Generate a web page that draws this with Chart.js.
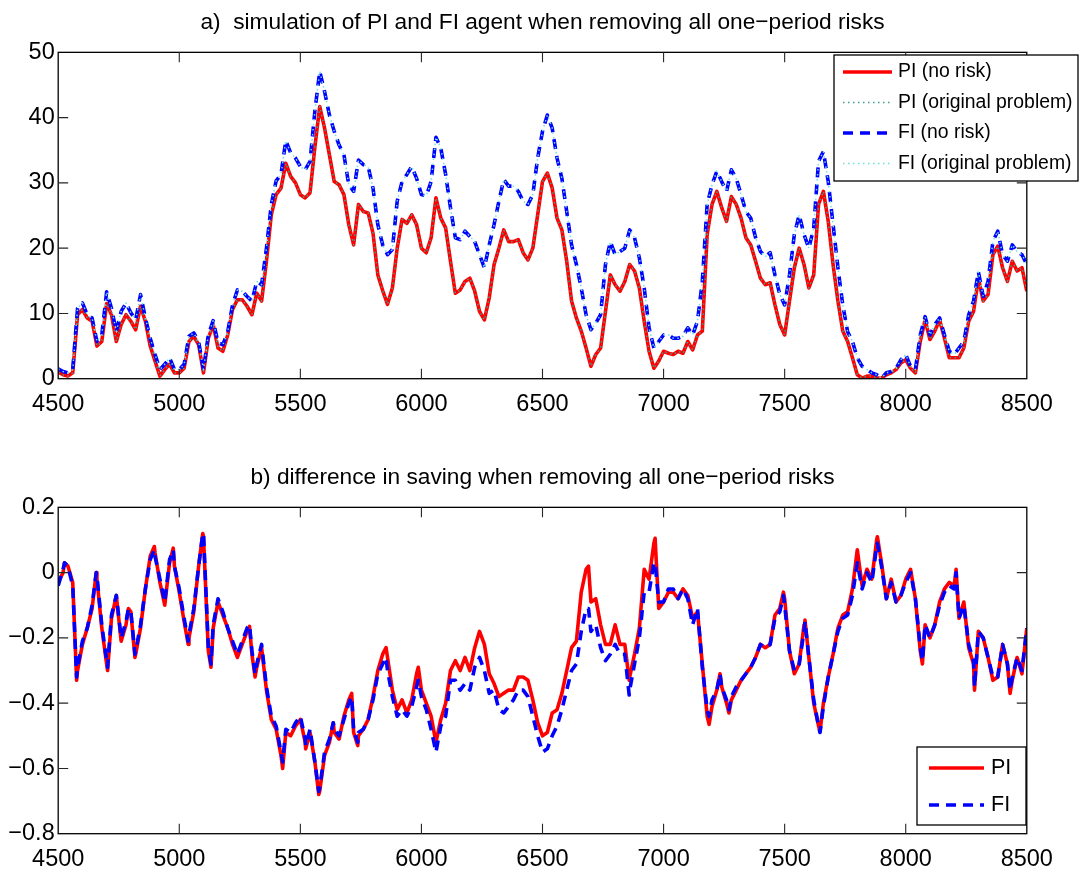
<!DOCTYPE html>
<html>
<head>
<meta charset="utf-8">
<script src="https://cdn.jsdelivr.net/npm/chart.js@4.4.0/dist/chart.umd.min.js"></script>
<style>
html, body { margin: 0; padding: 0; background: #fff; }
#wrap { position: relative; width: 1081px; height: 873px; overflow: hidden; background: #fff; }
#wrap canvas { position: absolute; left: 0; }
#c1 { top: 0; }
#c2 { top: 455px; }
</style>
</head>
<body>
<div id="wrap">
  <canvas id="c1" width="1081" height="455"></canvas>
  <canvas id="c2" width="1081" height="418"></canvas>
</div>
<script>
const periodStart = 4500;
const periodStep = 20;
const periodCount = 201; // 4500 ... 8500

const xTicks = [4500, 5000, 5500, 6000, 6500, 7000, 7500, 8000, 8500];
const yTicksTop = [0, 10, 20, 30, 40, 50];
const yTicksBottom = [-0.8, -0.6, -0.4, -0.2, 0, 0.2];

// panel a) PI agent, no one-period risk
const piNoRisk = [
1.0,0.6,0.4,0.9,9.8,10.6,9.3,8.8,5.0,5.7,
11.5,9.8,5.7,8.3,9.8,8.8,7.5,11.1,8.8,5.0,
2.7,0.4,1.4,2.2,0.9,0.9,1.6,5.7,6.5,5.2,
0.9,6.2,8.3,4.7,4.2,6.7,10.6,12.1,12.1,11.1,
9.8,13.1,11.9,18.0,25.1,28.2,29.2,33.0,31.0,30.0,
28.2,27.7,28.5,35.5,41.7,38.4,34.3,30.2,29.7,28.2,
23.6,20.5,26.7,25.6,25.4,22.3,15.9,13.5,11.4,13.9,
20.0,24.4,23.8,25.1,23.6,20.0,19.3,21.6,27.7,24.6,
23.1,18.0,13.1,13.6,14.9,15.4,13.4,10.3,9.0,12.4,
17.5,20.0,22.8,21.0,21.0,21.3,19.3,18.2,20.0,25.1,
30.2,31.5,29.2,24.6,22.8,18.0,11.9,9.3,7.3,4.7,
1.9,3.7,4.7,10.3,15.9,14.4,13.4,14.9,17.5,16.5,
13.9,8.8,4.2,1.6,2.7,4.2,3.9,3.7,4.2,3.9,
5.7,4.4,6.7,7.3,22.1,26.7,28.7,26.2,24.1,27.9,
26.7,24.6,21.6,20.5,18.0,15.4,14.4,14.7,11.3,8.3,
6.7,11.9,17.0,20.0,17.5,13.9,15.9,26.7,28.7,24.1,
17.5,11.9,7.3,5.7,3.2,0.6,0.1,0.4,0.4,0.1,
0.1,0.6,0.9,1.4,2.4,2.9,1.6,0.9,5.7,9.0,
6.0,7.3,9.0,6.2,3.2,3.2,3.2,4.7,8.8,10.3,
15.4,11.9,12.9,19.0,20.3,17.0,14.9,18.0,16.5,17.0,
13.4
];

// panel a) FI agent, no one-period risk
const fiNoRisk = [
1.5,1.1,0.9,1.4,10.8,11.6,9.8,9.3,5.7,6.7,
13.3,10.8,7.2,10.3,11.6,10.1,9.0,12.9,9.3,6.2,
3.7,1.4,2.2,3.2,1.4,1.4,2.2,6.5,7.0,5.7,
1.4,6.7,8.9,5.5,5.2,7.2,11.3,13.6,13.4,12.6,
11.9,14.9,14.4,20.0,26.7,30.3,31.3,36.5,34.6,33.8,
32.5,32.0,33.3,41.0,47.1,44.0,40.4,37.9,35.8,34.3,
29.7,28.7,33.5,32.8,32.5,29.2,23.6,20.5,19.0,19.8,
27.2,30.2,31.3,32.5,30.7,28.2,28.0,30.2,37.0,35.3,
31.3,26.2,21.6,21.3,22.6,21.8,21.0,19.0,17.0,20.5,
23.6,27.2,30.5,29.5,29.5,28.7,27.2,26.7,28.2,33.8,
37.9,40.4,38.4,33.8,30.7,25.6,20.5,17.5,13.9,9.8,
7.5,8.5,9.8,17.5,21.0,19.0,19.5,20.0,22.8,21.6,
18.5,13.9,7.8,4.7,5.7,6.7,6.7,6.2,6.2,6.5,
7.8,6.7,8.8,14.9,26.7,29.7,31.8,30.2,28.7,32.0,
30.7,28.2,25.6,24.6,21.6,19.5,18.7,19.3,15.9,12.9,
11.3,15.9,22.1,25.1,22.1,20.0,23.1,33.3,34.8,30.2,
23.6,17.0,11.3,7.2,5.7,3.2,1.9,1.4,0.9,0.6,
0.1,0.9,1.1,1.6,2.9,3.7,1.9,1.4,6.7,9.5,
6.7,8.3,9.3,6.7,4.2,3.7,4.7,5.7,9.8,11.9,
16.4,12.6,14.9,21.0,22.6,19.0,18.0,20.5,19.5,19.0,
17.5
];

// "original problem" paths lie on top of the no-risk paths in the picture
const piOriginal = piNoRisk;
const fiOriginal = fiNoRisk;

// panel b) difference in saving, PI agent (grid every 20 periods)
const piDiff = [
-0.03,0.00,0.02,-0.03,-0.30,-0.22,-0.17,-0.11,-0.02,-0.17,
-0.28,-0.14,-0.07,-0.21,-0.16,-0.12,-0.25,-0.17,-0.05,0.05,
0.06,-0.03,-0.10,0.03,0.02,-0.06,-0.15,-0.20,-0.12,0.02,
0.11,-0.24,-0.17,-0.09,-0.13,-0.17,-0.22,-0.26,-0.22,-0.18,
-0.25,-0.29,-0.23,-0.36,-0.45,-0.48,-0.56,-0.49,-0.50,-0.47,
-0.45,-0.52,-0.49,-0.58,-0.67,-0.56,-0.52,-0.49,-0.51,-0.44,
-0.39,-0.49,-0.50,-0.48,-0.45,-0.38,-0.30,-0.25,-0.26,-0.36,
-0.42,-0.39,-0.43,-0.39,-0.31,-0.36,-0.40,-0.44,-0.52,-0.45,
-0.40,-0.30,-0.27,-0.30,-0.26,-0.30,-0.23,-0.18,-0.22,-0.31,
-0.34,-0.38,-0.37,-0.36,-0.36,-0.32,-0.32,-0.33,-0.39,-0.46,
-0.50,-0.49,-0.43,-0.42,-0.37,-0.30,-0.23,-0.21,-0.06,0.01,
-0.09,-0.08,-0.16,-0.22,-0.22,-0.16,-0.22,-0.22,-0.32,-0.25,
-0.17,0.01,-0.02,0.09,-0.11,-0.09,-0.06,-0.06,-0.08,-0.05,
-0.07,-0.14,-0.12,-0.28,-0.44,-0.41,-0.36,-0.35,-0.40,-0.39,
-0.36,-0.33,-0.31,-0.29,-0.26,-0.22,-0.23,-0.22,-0.13,-0.11,
-0.08,-0.24,-0.31,-0.28,-0.16,-0.26,-0.40,-0.47,-0.40,-0.32,
-0.25,-0.17,-0.13,-0.12,-0.05,0.07,-0.04,0.01,-0.02,0.10,
0.03,-0.08,-0.02,-0.09,-0.07,-0.02,0.01,-0.08,-0.24,-0.16,
-0.20,-0.16,-0.09,-0.05,-0.03,-0.04,-0.14,-0.09,-0.23,-0.28,
-0.18,-0.20,-0.26,-0.33,-0.32,-0.22,-0.28,-0.33,-0.26,-0.31,
-0.17
];

// panel b) difference in saving, FI agent (grid every 20 periods)
const fiDiff = [
-0.04,0.01,0.02,-0.04,-0.29,-0.21,-0.17,-0.10,-0.01,-0.16,
-0.27,-0.13,-0.07,-0.20,-0.15,-0.12,-0.24,-0.16,-0.05,0.04,
0.05,-0.02,-0.09,0.04,0.02,-0.05,-0.14,-0.19,-0.11,0.02,
0.12,-0.23,-0.16,-0.08,-0.12,-0.17,-0.21,-0.25,-0.21,-0.17,
-0.24,-0.28,-0.22,-0.35,-0.44,-0.47,-0.55,-0.48,-0.49,-0.46,
-0.44,-0.51,-0.48,-0.58,-0.66,-0.55,-0.51,-0.48,-0.50,-0.45,
-0.40,-0.48,-0.49,-0.48,-0.45,-0.39,-0.31,-0.28,-0.30,-0.38,
-0.44,-0.42,-0.44,-0.41,-0.35,-0.38,-0.42,-0.48,-0.55,-0.47,
-0.44,-0.33,-0.33,-0.36,-0.34,-0.36,-0.29,-0.26,-0.30,-0.37,
-0.36,-0.42,-0.43,-0.41,-0.39,-0.36,-0.36,-0.38,-0.44,-0.50,
-0.55,-0.54,-0.50,-0.47,-0.42,-0.36,-0.30,-0.28,-0.18,-0.11,
-0.18,-0.16,-0.23,-0.27,-0.25,-0.22,-0.25,-0.25,-0.36,-0.28,
-0.20,-0.06,-0.06,0.03,-0.09,-0.09,-0.05,-0.05,-0.08,-0.05,
-0.08,-0.16,-0.11,-0.29,-0.42,-0.39,-0.36,-0.35,-0.39,-0.38,
-0.35,-0.33,-0.31,-0.29,-0.26,-0.22,-0.23,-0.22,-0.14,-0.12,
-0.10,-0.24,-0.30,-0.28,-0.18,-0.26,-0.39,-0.47,-0.41,-0.32,
-0.25,-0.18,-0.14,-0.13,-0.07,0.03,-0.05,0.00,-0.03,0.08,
0.02,-0.08,-0.03,-0.09,-0.07,-0.03,0.00,-0.08,-0.23,-0.16,
-0.20,-0.16,-0.10,-0.06,-0.04,-0.05,-0.14,-0.10,-0.22,-0.27,
-0.18,-0.20,-0.26,-0.32,-0.32,-0.22,-0.28,-0.32,-0.26,-0.30,
-0.17
];

// panel b) short spikes read between the grid points
const spikeX  = [4526, 4576, 4657, 4704, 4790, 4817, 4897, 4975, 5037, 5097, 5131, 5290, 5313, 5427, 5522, 5576, 5636, 5712, 5737,
                 5854, 5987, 6690, 6858, 6965, 7188, 7233, 7270, 7495, 7584, 7646, 7883, 8069, 8208, 8284, 8431];
const piSpike = [0.03, -0.33, 0.00, -0.30, -0.11, -0.26, 0.08, 0.075, -0.22, 0.12, -0.29, -0.165, -0.32, -0.60, -0.54, -0.68, -0.46, -0.37, -0.53,
                 -0.23, -0.29, 0.02, -0.33, 0.105, -0.465, -0.31, -0.43, -0.06, -0.145, -0.487, 0.11, -0.28, 0.01, -0.36, -0.37];
const fiSpike = [0.03, -0.32, 0.00, -0.29, -0.11, -0.25, 0.07, 0.07, -0.21, 0.12, -0.28, -0.16, -0.31, -0.58, -0.53, -0.67, -0.46, -0.38, -0.52,
                 -0.26, -0.33, -0.11, -0.375, 0.03, -0.44, -0.31, -0.42, -0.07, -0.15, -0.49, 0.09, -0.27, 0.00, -0.35, -0.36];

// ---------- CHART BUILDING ----------
const FONT = "'Liberation Sans', Arial, Helvetica, sans-serif";
Chart.defaults.font.family = FONT;
Chart.defaults.color = '#000';

const periods = Array.from({length: periodCount}, (_, i) => periodStart + i * periodStep);
const toPoints = ys => ys.map((y, i) => ({x: periods[i], y}));
const withSpikes = (ys, sp) => toPoints(ys).concat(spikeX.map((x, i) => ({x, y: sp[i]}))).sort((a, b) => a.x - b.x);

const RED = '#ff0000', BLUE = '#0000ff', TEAL = '#3e9e90', CYAN = '#6ee0e0';

// box + inward tick marks (MATLAB style)
const framePlugin = {
  id: 'frame',
  afterDatasetsDraw(chart) {
    const {ctx, chartArea: a, scales} = chart;
    ctx.save();
    ctx.strokeStyle = '#000';
    ctx.lineWidth = 1.3;
    ctx.strokeRect(a.left, a.top, a.right - a.left, a.bottom - a.top);
    const L = 10;
    ctx.strokeStyle = '#262626';
    ctx.lineWidth = 1.1;
    ctx.beginPath();
    scales.x.ticks.forEach(t => {
      const p = scales.x.getPixelForValue(t.value);
      if (p <= a.left + 1 || p >= a.right - 1) return;
      ctx.moveTo(p, a.bottom); ctx.lineTo(p, a.bottom - L);
      ctx.moveTo(p, a.top); ctx.lineTo(p, a.top + L);
    });
    scales.y.ticks.forEach(t => {
      const p = scales.y.getPixelForValue(t.value);
      if (p <= a.top + 1 || p >= a.bottom - 1) return;
      ctx.moveTo(a.left, p); ctx.lineTo(a.left + L, p);
      ctx.moveTo(a.right, p); ctx.lineTo(a.right - L, p);
    });
    ctx.stroke();
    ctx.restore();
  }
};

function makeLegend(cfg) {
  return {
    id: 'boxLegend',
    afterDraw(chart) {
      const ctx = chart.ctx;
      ctx.save();
      ctx.fillStyle = '#fff';
      ctx.fillRect(cfg.x, cfg.y, cfg.w, cfg.h);
      ctx.strokeStyle = '#000';
      ctx.lineWidth = 1.3;
      ctx.strokeRect(cfg.x, cfg.y, cfg.w, cfg.h);
      ctx.font = cfg.fontSize + 'px ' + FONT;
      ctx.textBaseline = 'middle';
      ctx.textAlign = 'left';
      cfg.items.forEach((dsIndex, k) => {
        const ds = chart.data.datasets[dsIndex];
        const y = cfg.firstY + k * cfg.gap;
        ctx.save();
        ctx.strokeStyle = ds.borderColor;
        ctx.lineWidth = ds.borderWidth;
        ctx.setLineDash(ds.borderDash || []);
        ctx.beginPath();
        ctx.moveTo(cfg.lineX1, y);
        ctx.lineTo(cfg.lineX2, y);
        ctx.stroke();
        ctx.restore();
        ctx.fillStyle = '#000';
        ctx.fillText(ds.label, cfg.textX, y);
      });
      ctx.restore();
    }
  };
}

function options(o) {
  return {
    responsive: false,
    animation: false,
    devicePixelRatio: 1,
    events: [],
    layout: { padding: { left: 8.2, right: 54.2, top: 0, bottom: o.padBottom } },
    plugins: {
      legend: { display: false },
      tooltip: { enabled: false },
      title: {
        display: true, text: o.title, color: '#000', fullSize: false,
        font: { size: 22.7, weight: 'normal', family: FONT },
        padding: { top: 9.2, bottom: 15.9 }
      }
    },
    scales: {
      x: {
        type: 'linear', min: 4500, max: 8500,
        grid: { display: false, drawTicks: false }, border: { display: false },
        afterBuildTicks: s => { s.ticks = xTicks.map(v => ({value: v})); },
        ticks: { padding: 11.5, font: { size: 23.5 }, color: '#000', maxRotation: 0, autoSkip: false,
                 callback: v => String(v) },
        afterFit: s => { s.height = o.xAxisHeight; }
      },
      y: {
        type: 'linear', min: o.yTicks[0], max: o.yTicks[o.yTicks.length - 1],
        grid: { display: false, drawTicks: false }, border: { display: false },
        afterBuildTicks: s => { s.ticks = o.yTicks.map(v => ({value: v})); },
        ticks: { padding: 3.5, font: { size: 23.5 }, color: '#000', autoSkip: false, callback: o.yFormat },
        afterFit: s => { s.width = 50; }
      }
    }
  };
}

const lineBase = { pointRadius: 0, tension: 0, fill: false, borderJoinStyle: 'round', spanGaps: true };

new Chart(document.getElementById('c1'), {
  type: 'line',
  data: {
    datasets: [
      Object.assign({ label: 'PI (no risk)', data: toPoints(piNoRisk), borderColor: RED, borderWidth: 3.6, order: 3 }, lineBase),
      Object.assign({ label: 'PI (original problem)', data: toPoints(piOriginal), borderColor: TEAL, borderWidth: 1.5, borderDash: [1.5, 3.5], order: 2 }, lineBase),
      Object.assign({ label: 'FI (no risk)', data: toPoints(fiNoRisk), borderColor: BLUE, borderWidth: 3.6, borderDash: [10, 7], order: 1 }, lineBase),
      Object.assign({ label: 'FI (original problem)', data: toPoints(fiOriginal), borderColor: CYAN, borderWidth: 1.5, borderDash: [1.5, 3.5], order: 0 }, lineBase)
    ]
  },
  options: options({
    title: 'a)  simulation of PI and FI agent when removing all one\u2212period risks',
    padBottom: 26.3,
    xAxisHeight: 50,
    yTicks: yTicksTop,
    yFormat: v => String(v)
  }),
  plugins: [framePlugin, makeLegend({
    x: 834, y: 55, w: 244, h: 126, fontSize: 19.4,
    firstY: 72, gap: 30.5, lineX1: 843, lineX2: 892, textX: 898,
    items: [0, 1, 2, 3]
  })]
});

const fmtDiff = v => {
  const r = Math.round(v * 10) / 10;
  if (Math.abs(r) < 1e-9) return '0';
  const s = Math.abs(r).toFixed(1);
  return (r < 0 ? '\u2212' : '') + s;
};

new Chart(document.getElementById('c2'), {
  type: 'line',
  data: {
    datasets: [
      Object.assign({ label: 'PI', data: withSpikes(piDiff, piSpike), borderColor: RED, borderWidth: 3.6, order: 1 }, lineBase),
      Object.assign({ label: 'FI', data: withSpikes(fiDiff, fiSpike), borderColor: BLUE, borderWidth: 3.6, borderDash: [10, 7], order: 0 }, lineBase)
    ]
  },
  options: options({
    title: 'b) difference in saving when removing all one\u2212period risks',
    padBottom: 0,
    xAxisHeight: 39.3,
    yTicks: yTicksBottom,
    yFormat: fmtDiff
  }),
  plugins: [framePlugin, makeLegend({
    x: 917, y: 292, w: 109, h: 78, fontSize: 21.5,
    firstY: 313, gap: 37, lineX1: 929, lineX2: 984, textX: 991,
    items: [0, 1]
  })]
});
</script>
</body>
</html>
